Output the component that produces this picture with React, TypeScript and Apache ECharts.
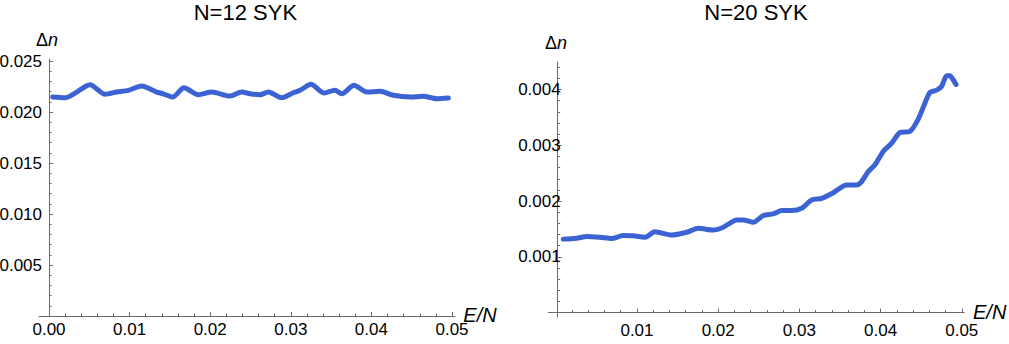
import React, { useEffect, useRef } from "react";
import * as echarts from "echarts";

// ---- Data ----
const leftX = [0.00046, 0.00199, 0.00301, 0.00509, 0.00694, 0.0084, 0.00984, 0.0115, 0.01336, 0.01418, 0.01535, 0.01675, 0.01853, 0.02018, 0.02246, 0.02391, 0.02494, 0.02618, 0.02721, 0.02887, 0.03031, 0.03114, 0.03251, 0.03412, 0.03548, 0.03632, 0.03784, 0.03942, 0.04107, 0.04272, 0.04479, 0.04644, 0.0481, 0.04954];
const leftY = [0.02147, 0.0214, 0.02174, 0.02268, 0.02174, 0.02196, 0.02213, 0.02255, 0.02196, 0.02179, 0.02147, 0.02238, 0.0217, 0.02196, 0.02157, 0.02196, 0.02179, 0.0217, 0.02196, 0.0214, 0.02189, 0.02213, 0.02272, 0.02186, 0.02213, 0.02179, 0.02262, 0.02196, 0.02203, 0.02164, 0.02147, 0.02154, 0.0213, 0.02137];

const rightX = [0.00092, 0.00257, 0.0038, 0.00544, 0.00688, 0.00831, 0.00954, 0.01099, 0.01222, 0.01427, 0.01612, 0.01755, 0.0194, 0.02063, 0.02228, 0.02309, 0.02432, 0.02555, 0.02679, 0.02782, 0.02905, 0.03028, 0.03151, 0.03275, 0.03418, 0.03582, 0.03706, 0.03767, 0.03849, 0.03931, 0.04033, 0.04137, 0.04239, 0.04362, 0.04464, 0.04547, 0.04608, 0.04691, 0.04752, 0.04814, 0.04855, 0.04888, 0.04929];
const rightY = [0.001317, 0.001334, 0.001363, 0.00135, 0.00133, 0.00138, 0.001376, 0.00135, 0.00145, 0.00139, 0.00144, 0.00151, 0.00148, 0.00153, 0.00166, 0.00166, 0.00162, 0.00174, 0.00177, 0.00183, 0.00183, 0.00187, 0.00202, 0.00205, 0.00215, 0.00229, 0.00229, 0.00235, 0.00253, 0.00265, 0.00289, 0.00304, 0.00323, 0.00325, 0.00347, 0.00376, 0.00395, 0.00399, 0.00406, 0.00425, 0.00425, 0.00419, 0.00409];

// ---- Tick labels ----
const leftXTicks = [0, 0.01, 0.02, 0.03, 0.04, 0.05];
const leftYTicks = [0.005, 0.01, 0.015, 0.02, 0.025];
const rightXTicks = [0.01, 0.02, 0.03, 0.04, 0.05];
const rightYTicks = [0.001, 0.002, 0.003, 0.004];

const titles = ["N=12 SYK", "N=20 SYK"];

const steps = (from: number, to: number, step: number) => {
  const out: number[] = [];
  const n = Math.round((to - from) / step);
  for (let i = 0; i <= n; i++) out.push(+(from + i * step).toFixed(6));
  return out;
};
const leftXMinor = steps(0, 0.05, 0.002);
const leftYMinor = steps(0.001, 0.025, 0.001);
const rightXMinor = steps(0.002, 0.05, 0.002);
const rightYMinor = steps(0.0002, 0.0044, 0.0002);

const FONT = "'Liberation Sans', Arial, Helvetica, sans-serif";
const AXIS = "#6b6b6b";
const LINE = "#3b63d3";

const zip = (xs: number[], ys: number[]) => xs.map((x, i) => [x, ys[i]]);

function mainX(grid: number, min: number, max: number, ticks: number[], digits: number) {
  return {
    gridIndex: grid,
    type: "value",
    min,
    max,
    axisLine: { show: true, onZero: true, lineStyle: { color: AXIS, width: 1 } },
    axisTick: { show: true, inside: true, length: 4, customValues: ticks, lineStyle: { color: AXIS } },
    axisLabel: {
      customValues: ticks,
      formatter: (v: number) => v.toFixed(digits),
      fontSize: 17,
      fontFamily: FONT,
      color: "#000",
      margin: 5,
    },
    splitLine: { show: false },
  };
}
function minorX(grid: number, min: number, max: number, ticks: number[]) {
  return {
    gridIndex: grid,
    type: "value",
    position: "bottom",
    min,
    max,
    axisLine: { show: false, onZero: true },
    axisTick: { show: true, inside: true, length: 2.5, customValues: ticks, lineStyle: { color: AXIS } },
    axisLabel: { show: false },
    splitLine: { show: false },
  };
}
function mainY(grid: number, min: number, max: number, ticks: number[], digits: number, onZero: boolean, offset: number) {
  return {
    gridIndex: grid,
    type: "value",
    position: "left",
    min,
    max,
    offset,
    axisLine: { show: true, onZero, lineStyle: { color: AXIS, width: 1 } },
    axisTick: { show: true, inside: true, length: 4, customValues: ticks, lineStyle: { color: AXIS } },
    axisLabel: {
      customValues: ticks,
      formatter: (v: number) => v.toFixed(digits),
      fontSize: 17,
      fontFamily: FONT,
      color: "#000",
      margin: -3,
    },
    splitLine: { show: false },
  };
}
function minorY(grid: number, min: number, max: number, ticks: number[], onZero: boolean, offset: number) {
  return {
    gridIndex: grid,
    type: "value",
    position: "left",
    min,
    max,
    offset,
    axisLine: { show: false, onZero },
    axisTick: { show: true, inside: true, length: 2.5, customValues: ticks, lineStyle: { color: AXIS } },
    axisLabel: { show: false },
    splitLine: { show: false },
  };
}

function textEl(text: string, x: number, y: number, size: number, extra: any = {}) {
  return {
    type: "text",
    x,
    y,
    style: {
      text,
      fontSize: size,
      fontFamily: FONT,
      fill: "#000",
      align: "center",
      verticalAlign: "middle",
      textAlign: "center",
      textVerticalAlign: "middle",
      ...extra,
    },
  };
}

export default function App() {
  const ref = useRef<HTMLDivElement>(null);
  useEffect(() => {
    if (!ref.current) return;
    const chart = echarts.init(ref.current, null, { renderer: "svg" });
    const deltaN = {
      rich: {
        a: { fontSize: 18, fontFamily: FONT, fill: "#000", color: "#000" },
        b: { fontSize: 18, fontFamily: FONT, fontStyle: "italic", fill: "#000", color: "#000" },
      },
    };
    const option: any = {
      animation: false,
      backgroundColor: "#fff",
      grid: [
        { left: 39, top: 59, width: 416, height: 257, containLabel: false, outerBoundsMode: "none" },
        { left: 548.3, top: 61.7, width: 416, height: 255.3, containLabel: false, outerBoundsMode: "none" },
      ],
      xAxis: [
        mainX(0, -0.00124, 0.05037, leftXTicks, 2),
        minorX(0, -0.00124, 0.05037, leftXMinor),
        mainX(1, -0.00092, 0.05031, rightXTicks, 2),
        minorX(1, -0.00092, 0.05031, rightXMinor),
      ],
      yAxis: [
        mainY(0, 0, 0.0252, leftYTicks, 3, true, 0),
        minorY(0, 0, 0.0252, leftYMinor, true, 0),
        mainY(1, -0.00008, 0.0045, rightYTicks, 3, false, -9.4),
        minorY(1, -0.00008, 0.0045, rightYMinor, false, -9.4),
      ],
      series: [
        {
          type: "line",
          xAxisIndex: 0,
          yAxisIndex: 0,
          data: zip(leftX, leftY),
          showSymbol: false,
          smooth: 0.25,
          lineStyle: { color: LINE, width: 5, cap: "round", join: "round" },
        },
        {
          type: "line",
          xAxisIndex: 2,
          yAxisIndex: 2,
          data: zip(rightX, rightY),
          showSymbol: false,
          smooth: 0.25,
          lineStyle: { color: LINE, width: 5, cap: "round", join: "round" },
        },
      ],
      graphic: [
        textEl(titles[0], 245.4, 12, 22),
        textEl(titles[1], 756, 12, 22),
        textEl("{a|Δ}{b|n}", 47, 40, 18, deltaN),
        textEl("{a|Δ}{b|n}", 556, 43, 18, deltaN),
        textEl("E/N", 480, 314.5, 20, { fontStyle: "italic" }),
        textEl("E/N", 989.7, 311.5, 20, { fontStyle: "italic" }),
      ],
    };
    chart.setOption(option);
    return () => chart.dispose();
  }, []);
  return (
    <div
      ref={ref}
      style={{ position: "absolute", left: 0, top: 0, width: 1009, height: 344, background: "#fff" }}
    />
  );
}
